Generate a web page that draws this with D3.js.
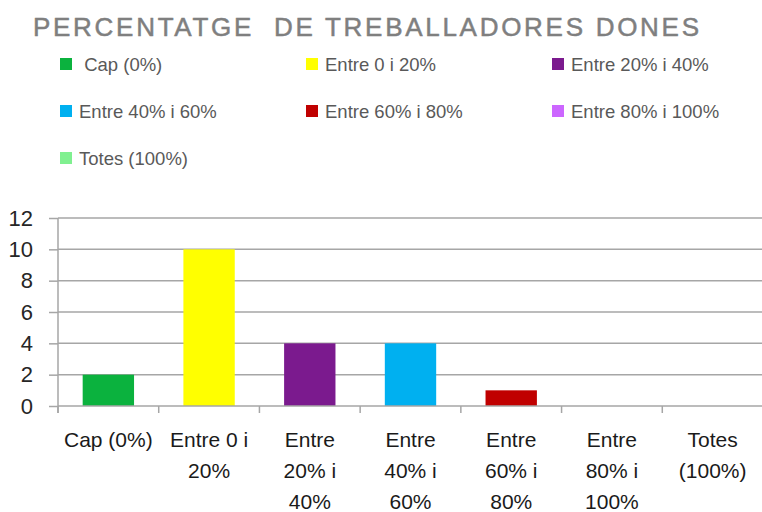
<!DOCTYPE html>
<meta charset="utf-8">
<style>
  body { margin: 0; background: #fff; }
  text { font-family: "Liberation Sans", Arial, sans-serif; }
</style>
<svg width="762" height="512"></svg>
<script src="https://d3js.org/d3.v7.min.js"></script>
<script>

  var categories = ["Cap (0%)", "Entre 0 i 20%", "Entre 20% i 40%", "Entre 40% i 60%", "Entre 60% i 80%", "Entre 80% i 100%", "Totes (100%)"];
  var legendLabels = [" Cap (0%)", "Entre 0 i 20%", "Entre 20% i 40%", "Entre 40% i 60%", "Entre 60% i 80%", "Entre 80% i 100%", "Totes (100%)"];
  var axisLabels = [["Cap (0%)"], ["Entre 0 i", "20%"], ["Entre", "20% i", "40%"], ["Entre", "40% i", "60%"], ["Entre", "60% i", "80%"], ["Entre", "80% i", "100%"], ["Totes", "(100%)"]];
  var values = [2, 10, 4, 4, 1, 0, 0];
  var colors = ["#0bb23e", "#ffff00", "#7b1a8e", "#00b0f0", "#c00000", "#cc66ff", "#80f090"];
  var yTicks = [0, 2, 4, 6, 8, 10, 12];

  var svg = d3.select("svg"),
    margin = {top: 218, right: 0, bottom: 106, left: 58},
    width = +svg.attr("width") - margin.left - margin.right + 1,
    height = +svg.attr("height") - margin.top - margin.bottom,
    g = svg.append("g").attr("transform", "translate(" + margin.left + "," + margin.top + ")");

  svg.append("text")
    .attr("x", 33)
    .attr("y", 36)
    .attr("fill", "#7f7f7f")
    .attr("stroke", "#7f7f7f")
    .attr("stroke-width", 0.5)
    .attr("font-size", 26)
    .attr("textLength", 666)
    .attr("lengthAdjust", "spacing")
    .attr("xml:space", "preserve")
    .text("PERCENTATGE  DE TREBALLADORES DONES");

  // legend, 3 columns
  var legCols = [60, 306, 552], legRows = [64, 111, 158];
  var leg = svg.append("g").selectAll("g")
    .data(legendLabels)
    .enter().append("g")
    .attr("transform", function (d, i) {
      return "translate(" + legCols[i % 3] + "," + legRows[Math.floor(i / 3)] + ")";
    });
  leg.append("rect")
    .attr("y", -6).attr("width", 12).attr("height", 12)
    .attr("fill", function (d, i) { return colors[i]; });
  leg.append("text")
    .attr("x", 19)
    .attr("dy", "0.36em")
    .attr("xml:space", "preserve")
    .attr("font-size", 18.5)
    .attr("fill", "#595959")
    .text(function (d) { return d; });

  var x = d3.scaleBand().domain(categories).range([0, width]).paddingInner(0.49).paddingOuter(0.245);
  var y = d3.scaleLinear().domain([0, 12]).range([height, 0]);

  // gridlines
  g.append("g").selectAll("line")
    .data(yTicks.slice(1))
    .enter().append("line")
    .attr("x1", 0).attr("x2", width)
    .attr("y1", function (d) { return y(d); })
    .attr("y2", function (d) { return y(d); })
    .attr("stroke", "#a6a6a6")
    .attr("stroke-width", 1.5);

  g.selectAll(".bar")
    .data(values)
    .enter().append("rect")
    .attr("class", "bar")
    .attr("x", function (d, i) { return x(categories[i]); })
    .attr("y", function (d) { return y(d); })
    .attr("width", x.bandwidth())
    .attr("height", function (d) { return height - y(d); })
    .attr("fill", function (d, i) { return colors[i]; });

  // y axis
  var yAxis = g.append("g")
    .call(d3.axisLeft(y).tickValues(yTicks).tickSize(9).tickPadding(16));
  yAxis.select(".domain").attr("stroke", "#a6a6a6").attr("stroke-width", 1.5).attr("d", "M0,0V" + (height + 7));
  yAxis.selectAll(".tick line").attr("stroke", "#a6a6a6").attr("stroke-width", 1.5);
  yAxis.selectAll(".tick text")
    .attr("font-size", 22)
    .attr("fill", "#262626");

  // x axis
  var step = x.step();
  var xBottom = g.append("g").attr("transform", "translate(0," + height + ")");
  xBottom.append("line")
    .attr("x1", 0).attr("x2", width)
    .attr("stroke", "#a6a6a6").attr("stroke-width", 1.5);
  xBottom.selectAll(".tk")
    .data(d3.range(categories.length + 1))
    .enter().append("line")
    .attr("x1", function (d) { return d * step; })
    .attr("x2", function (d) { return d * step; })
    .attr("y1", 0).attr("y2", 7)
    .attr("stroke", "#a6a6a6").attr("stroke-width", 1.5);

  var xl = xBottom.selectAll(".xl")
    .data(axisLabels)
    .enter().append("text")
    .attr("text-anchor", "middle")
    .attr("font-size", 21)
    .attr("fill", "#1a1a1a")
    .attr("transform", function (d, i) {
      return "translate(" + (x(categories[i]) + x.bandwidth() / 2) + ",0)";
    });
  xl.selectAll("tspan")
    .data(function (d) { return d; })
    .enter().append("tspan")
    .attr("x", 0)
    .attr("y", function (d, i) { return 41 + i * 31; })
    .text(function (d) { return d; });

</script>
